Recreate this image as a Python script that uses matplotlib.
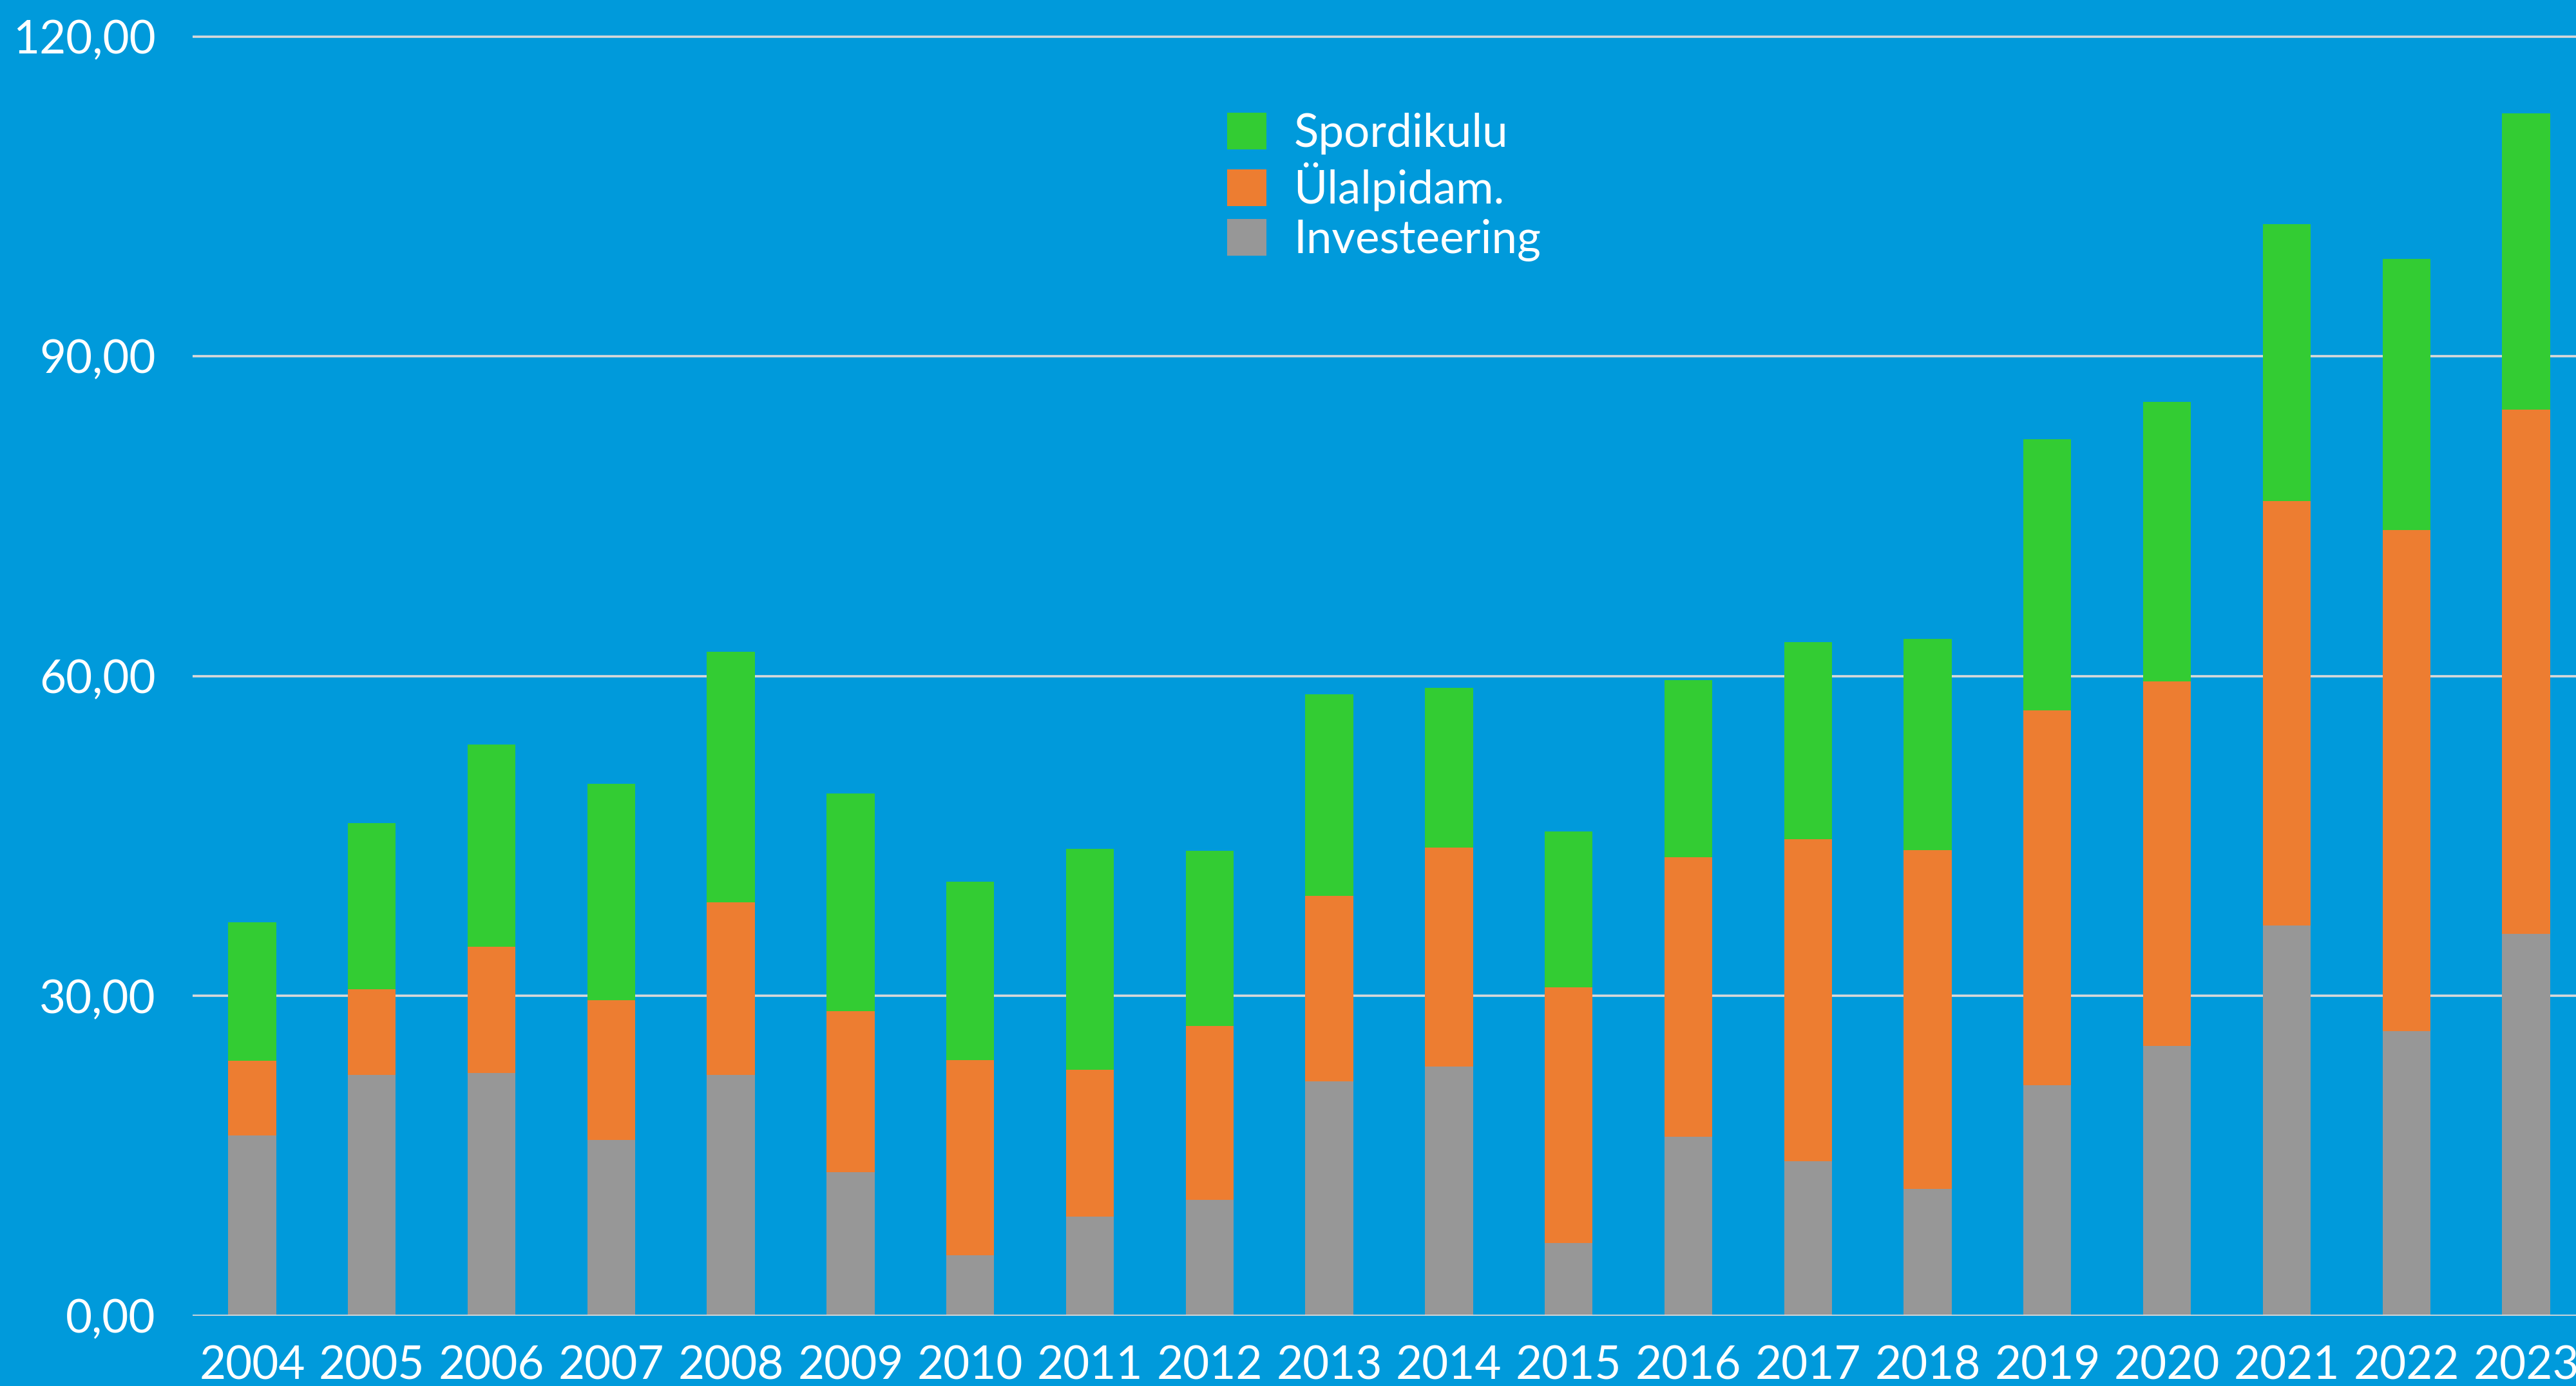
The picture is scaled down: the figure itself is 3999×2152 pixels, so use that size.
import matplotlib
matplotlib.use("Agg")
import matplotlib.pyplot as plt
import numpy as np

years = ["2004", "2005", "2006", "2007", "2008", "2009", "2010", "2011", "2012", "2013",
         "2014", "2015", "2016", "2017", "2018", "2019", "2020", "2021", "2022", "2023"]
investeering = [16.9, 22.6, 22.8, 16.5, 22.6, 13.5, 5.7, 9.3, 10.9, 22.0,
                23.4, 6.8, 16.8, 14.5, 11.9, 21.6, 25.3, 36.6, 26.7, 35.8]
ulalpidam = [7.0, 8.0, 11.8, 13.1, 16.2, 15.1, 18.3, 13.8, 16.3, 17.4,
             20.5, 24.0, 26.2, 30.2, 31.8, 35.2, 34.2, 39.8, 47.0, 49.2]
spordikulu = [13.0, 15.6, 19.0, 20.3, 23.5, 20.4, 16.7, 20.7, 16.4, 18.9,
              15.0, 14.6, 16.6, 18.5, 19.8, 25.4, 26.2, 26.0, 25.4, 27.8]
series_names = ["Spordikulu", "Ülalpidam.", "Investeering"]
y_ticks = [0, 30, 60, 90, 120]
y_tick_labels = ["0,00", "30,00", "60,00", "90,00", "120,00"]

BG = "#009ADB"
C_GREEN = "#33CC33"
C_ORANGE = "#ED7D31"
C_GRAY = "#979797"
C_GRID = "#D9D9D9"

plt.rcParams["font.family"] = ["Lato", "DejaVu Sans"]

W, H = 3999, 2152
dpi = 100
fig = plt.figure(figsize=(W / dpi, H / dpi), dpi=dpi, facecolor=BG)

ymax = 122.0
px_per_unit = (2043 - 56.5) / 120.0
ax_bottom = (H - 2043) / H
ax_height = ymax * px_per_unit / H
ax_left = 298.5 / W
ax_width = 1.0 - ax_left
ax = fig.add_axes([ax_left, ax_bottom, ax_width, ax_height], facecolor=BG)

x = np.arange(len(years))
inv = np.array(investeering)
ula = np.array(ulalpidam)
spo = np.array(spordikulu)
width = 0.4
b_inv = ax.bar(x, inv, width, color=C_GRAY, zorder=2, label=series_names[2])
b_ula = ax.bar(x, ula, width, bottom=inv, color=C_ORANGE, zorder=2, label=series_names[1])
b_spo = ax.bar(x, spo, width, bottom=inv + ula, color=C_GREEN, zorder=2, label=series_names[0])

ax.set_xlim(-0.5, 19.417)
ax.set_ylim(0, ymax)
ax.set_yticks(y_ticks)
ax.set_yticklabels(y_tick_labels)
ax.set_xticks(x)
ax.set_xticklabels(years)
for s in ax.spines.values():
    s.set_visible(False)
ax.tick_params(axis="both", length=0, colors="white", labelsize=51)
ax.tick_params(axis="y", pad=41)
ax.tick_params(axis="x", pad=33)
for yv in y_ticks:
    ax.axhline(yv, color=C_GRID, linewidth=2.6, zorder=1 if yv > 0 else 3)

leg = ax.legend(handles=[b_spo, b_ula, b_inv], labels=series_names,
                loc="upper left", bbox_to_anchor=((1905 - 298.5) / (W - 298.5), 1 - (175 - 23.4) / (ymax * px_per_unit)),
                frameon=False, fontsize=51, labelcolor="white",
                handlelength=0.86, handleheight=0.86, handletextpad=0.6,
                labelspacing=0.17, borderaxespad=0, borderpad=0)

fig.savefig("out.png", dpi=dpi, facecolor=BG)
